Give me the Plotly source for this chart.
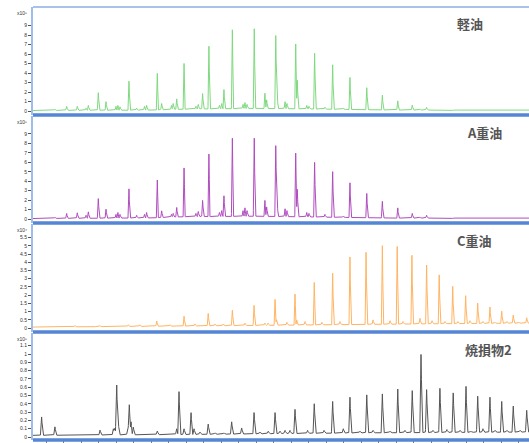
import numpy as np
import plotly.graph_objects as go

# ---------------- data (retention time, intensity) ----------------
x_range = [1.257, 29.6]
x_tickvals = list(range(2, 30))

# 軽油 (x10^5)
p1_t = [2.51, 3.18, 3.79, 4.29, 4.42, 4.99, 5.43, 6.00, 6.11, 6.23, 6.74, 7.18, 7.63, 7.75,
        8.36, 8.61, 9.17, 9.27, 9.47, 9.89, 10.57, 10.70, 10.95, 11.31, 11.91, 12.04, 12.17,
        12.65, 13.26, 13.37, 13.49, 13.90, 14.51, 14.61, 15.13, 15.20, 15.66, 15.77, 16.27,
        16.36, 16.90, 17.03, 17.35, 17.94, 18.38, 18.99, 19.37, 20.33, 21.22, 22.10, 22.93,
        23.37, 23.75, 24.51, 25.26]
p1_h = [0.2, 0.5, 0.5, 0.3, 0.6, 1.97, 1.0, 0.5, 0.6, 0.45, 3.2, 0.3, 0.5, 0.6,
        4.04, 0.8, 0.6, 0.8, 1.3, 5.1, 0.5, 0.7, 1.87, 6.96, 0.6, 0.8, 2.3,
        8.72, 0.7, 0.9, 0.7, 8.83, 1.9, 1.2, 8.1, 2.6, 1.0, 0.8, 7.2,
        3.3, 0.6, 0.5, 6.2, 0.4, 4.96, 0.3, 3.6, 2.5, 1.69, 1.09, 0.63,
        0.2, 0.39, 0.15, 0.05]
b1_t = [1.257, 8.0, 10.0, 14.0, 18.0, 22.0, 29.6]
b1_v = [0.05, 0.1, 0.2, 0.28, 0.2, 0.1, 0.1]

# A重油 (x10^5)
p2_t = p1_t
p2_h = [0.2, 0.6, 0.67, 0.4, 0.77, 2.2, 1.06, 0.5, 0.7, 0.5, 3.25, 0.4, 0.5, 0.7,
        4.2, 0.88, 0.5, 0.6, 1.24, 5.5, 0.6, 0.8, 2.0, 7.0, 0.7, 0.9, 2.5,
        8.7, 0.9, 1.2, 0.9, 8.7, 2.0, 1.3, 7.9, 2.8, 1.1, 0.9, 7.1,
        3.2, 0.7, 0.6, 6.1, 0.5, 5.1, 0.3, 3.9, 2.75, 1.9, 1.2, 0.6,
        0.2, 0.4, 0.15, 0.05]
b2_t = [1.257, 8.0, 10.0, 14.0, 18.0, 22.0, 29.6]
b2_v = [0.05, 0.12, 0.25, 0.3, 0.2, 0.1, 0.1]

# C重油 (x10^4)
p3_t = [3.66, 5.09, 6.70, 7.37, 8.33, 9.09, 9.89, 10.51, 11.27, 11.66, 12.13, 12.65, 13.37,
        13.89, 14.51, 14.69, 15.09, 15.17, 15.77, 16.23, 16.33, 16.80, 17.33, 17.77, 18.38,
        18.80, 19.37, 20.29, 20.69, 21.22, 21.66, 22.07, 22.40, 22.91, 23.37, 23.75, 24.06,
        24.47, 24.80, 25.24, 25.54, 25.98, 26.23, 26.67, 26.97, 27.37, 27.66, 28.04, 28.34,
        28.70, 29.03, 29.47]
p3_h = [0.15, 0.15, 0.2, 0.2, 0.43, 0.2, 0.73, 0.25, 0.9, 0.25, 0.25, 1.1, 0.3,
        1.4, 0.3, 0.3, 1.77, 0.55, 0.35, 2.1, 0.5, 0.4, 2.82, 0.35, 3.39,
        0.4, 4.4, 4.69, 0.5, 5.1, 0.45, 5.05, 0.4, 4.5, 0.6, 3.9, 0.45,
        3.29, 0.4, 2.58, 0.4, 2.0, 0.45, 1.54, 0.4, 1.3, 0.35, 1.04, 0.4,
        0.8, 0.35, 0.63]
b3_t = [1.257, 10.0, 18.0, 25.0, 29.6]
b3_v = [0.06, 0.12, 0.2, 0.27, 0.3]

# 焼損物2 (x10^5)
p4_t = [1.75, 2.51, 5.09, 5.85, 5.94, 6.04, 6.13, 6.67, 6.76, 6.86, 6.99, 8.36, 9.47, 9.60,
        9.89, 10.29, 10.46, 10.80, 11.27, 11.66, 12.17, 12.61, 13.18, 13.89, 14.23, 14.70,
        15.09, 15.37, 15.66, 15.94, 16.23, 16.95, 17.33, 17.89, 18.38, 18.99, 19.37, 19.94,
        20.33, 20.69, 21.22, 21.66, 22.10, 22.51, 22.93, 23.43, 23.75, 24.11, 24.51, 24.91,
        25.27, 25.66, 26.00, 26.29, 26.67, 26.97, 27.37, 27.66, 28.04, 28.34, 28.70, 29.09,
        29.47]
p4_h = [0.245, 0.124, 0.084, 0.1, 0.11, 0.635, 0.177, 0.09, 0.394, 0.185, 0.12, 0.072, 0.1, 0.554,
        0.1, 0.297, 0.1, 0.06, 0.157, 0.05, 0.05, 0.185, 0.11, 0.298, 0.06, 0.07,
        0.298, 0.07, 0.08, 0.08, 0.337, 0.08, 0.406, 0.08, 0.434, 0.1, 0.486, 0.07,
        0.514, 0.08, 0.526, 0.07, 0.586, 0.08, 0.566, 1.008, 0.578, 0.08, 0.594, 0.09,
        0.538, 0.08, 0.618, 0.07, 0.498, 0.1, 0.486, 0.08, 0.434, 0.08, 0.377, 0.08,
        0.325]
b4_t = [1.257, 10.0, 20.0, 29.6]
b4_v = [0.02, 0.03, 0.05, 0.06]

panel_names = ["軽油", "A重油", "C重油", "焼損物2"]
panel_exponents = ["x10⁵", "x10⁵", "x10⁴", "x10⁵"]
tick_vals = [
    [0, 1, 2, 3, 4, 5, 6, 7, 8, 9],
    [0, 1, 2, 3, 4, 5, 6, 7, 8, 9],
    [0, 0.5, 1, 1.5, 2, 2.5, 3, 3.5, 4, 4.5, 5, 5.5],
    [0, 0.1, 0.2, 0.3, 0.4, 0.5, 0.6, 0.7, 0.8, 0.9, 1, 1.1],
]
tick_text = [
    ["0", "1", "2", "3", "4", "5", "6", "7", "8", "9"],
    ["0", "1", "2", "3", "4", "5", "6", "7", "8", "9"],
    ["0", "0.5", "1", "1.5", "2", "2.5", "3", "3.5", "4", "4.5", "5", "5.5"],
    ["0", "0.1", "0.2", "0.3", "0.4", "0.5", "0.6", "0.7", "0.8", "0.9", "1", "1.1"],
]

# ---------------- styling ----------------
colors = ["#7fd97f", "#b04cbf", "#ffb463", "#555555"]
y_ranges = [[-0.42, 10.97], [-0.42, 10.9], [-0.24, 6.33], [-0.036, 1.253]]
W, H = 529, 443
ML, MR, MT, MB = 33, 0, 7, 3
PH = H - MT - MB
panel_px = [(7, 115), (116, 223), (224, 332), (333, 440)]
half_widths = [0.055, 0.055, 0.055, 0.07]


def to_paper(ypix):
    return (H - MB - ypix) / PH


def trace_xy(pt, ph, bt, bv, hw):
    grid = np.arange(x_range[0], x_range[1] + 0.004, 0.004)
    base = np.interp(grid, bt, bv)
    y = base.copy()
    for t, h in zip(pt, ph):
        b0 = np.interp(t, bt, bv)
        tri = np.clip(1 - np.abs(grid - t) / hw, 0, None) * (h - b0)
        y = y + tri
    return grid, y


series = [(p1_t, p1_h, b1_t, b1_v), (p2_t, p2_h, b2_t, b2_v),
          (p3_t, p3_h, b3_t, b3_v), (p4_t, p4_h, b4_t, b4_v)]

fig = go.Figure()
for i, (pt, ph, bt, bv) in enumerate(series):
    gx, gy = trace_xy(pt, ph, bt, bv, half_widths[i])
    fig.add_trace(go.Scatter(x=gx, y=gy, mode="lines",
                             line=dict(color=colors[i], width=1),
                             yaxis="y" if i == 0 else f"y{i+1}", xaxis="x",
                             showlegend=False, hoverinfo="skip"))

layout = dict(
    width=W, height=H, margin=dict(l=ML, r=MR, t=MT, b=MB),
    paper_bgcolor="white", plot_bgcolor="white", showlegend=False,
    xaxis=dict(range=x_range, anchor="y4", domain=[0, 1], showgrid=False, zeroline=False,
               tickvals=x_tickvals, ticks="outside", ticklen=3, tickcolor="#777",
               showticklabels=False, showline=False),
)
annotations = []
shapes = []
for i in range(4):
    top, bot = panel_px[i]
    key = "yaxis" if i == 0 else f"yaxis{i+1}"
    layout[key] = dict(
        domain=[to_paper(bot), to_paper(top)], range=y_ranges[i], anchor="x",
        showgrid=False, zeroline=False, tickvals=tick_vals[i], ticktext=tick_text[i],
        ticks="outside", ticklen=3, tickcolor="#555", tickwidth=1,
        tickfont=dict(size=5, color="#333", family="Arial"),
        showline=True, linecolor="#9fbdea", linewidth=2,
    )
    annotations.append(dict(text=f"<b>{panel_names[i]}</b>", xref="paper", yref="paper",
                            x=(470 - ML) / (W - ML - MR) if i != 1 else (484 - ML) / (W - ML - MR),
                            y=to_paper(top + 16), xanchor="center", yanchor="middle",
                            showarrow=False,
                            font=dict(size=13, color="#555", family="Noto Sans CJK JP")))
    annotations.append(dict(text=panel_exponents[i], xref="paper", yref="paper",
                            x=(22 - ML) / (W - ML - MR), y=to_paper(top + 6),
                            xanchor="center", yanchor="middle", showarrow=False,
                            font=dict(size=5, color="#333", family="Arial")))
    shapes.append(dict(type="line", xref="paper", yref="paper", x0=0, x1=1,
                       y0=to_paper(bot), y1=to_paper(bot),
                       line=dict(color="#5585d5", width=3.5)))
annotations[6]["x"] = (474 - ML) / (W - ML - MR)
annotations[4]["x"] = (474 - ML) / (W - ML - MR)
annotations[6]["x"] = (488 - ML) / (W - ML - MR)
shapes.append(dict(type="line", xref="paper", yref="paper", x0=0, x1=1, y0=1, y1=1,
                   line=dict(color="#a9c2ec", width=2)))
layout["annotations"] = annotations
layout["shapes"] = shapes
fig.update_layout(**layout)
fig.write_html("out.html")
